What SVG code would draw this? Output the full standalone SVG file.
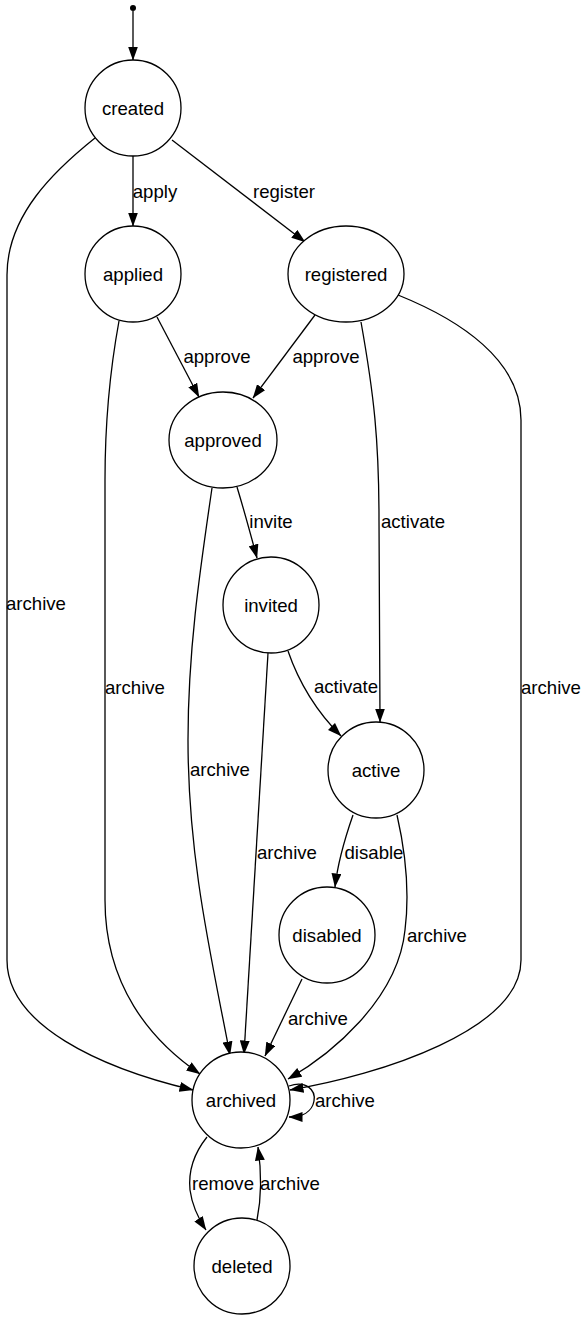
<svg xmlns="http://www.w3.org/2000/svg" width="588" height="1320" viewBox="0 0 588 1320">
<defs>
<marker id="arr" markerUnits="userSpaceOnUse" markerWidth="14" markerHeight="10" viewBox="0 0 14 10" refX="13.5" refY="5" orient="auto">
<path d="M0,0 L14,5 L0,10 z" fill="#000"/>
</marker>
</defs>
<style>
.node ellipse, .node circle.n { fill: #fff; stroke: #000; stroke-width: 1.3; }
.node text { font-family: "Liberation Sans", Arial, sans-serif; font-size: 18.6px; text-anchor: middle; fill: #000; }
.edges path { fill: none; stroke: #000; stroke-width: 1.3; marker-end: url(#arr); }
.edges text { font-family: "Liberation Sans", Arial, sans-serif; font-size: 18.6px; text-anchor: middle; fill: #000; }
</style>
<rect width="588" height="1320" fill="#fff"/>
<g class="edges" id="edges">
<path d="M133,11 L133,60"/>
<path d="M133,156 L133,226"/>
<text x="155" y="198">apply</text>
<path d="M172,140 L305,242"/>
<text x="284" y="198">register</text>
<path d="M95,138 C55,170 7,215 7,275 L7,960 C7,1025 100,1068 193,1090"/>
<text x="36" y="610">archive</text>
<path d="M157,317 L199,397"/>
<text x="217" y="363">approve</text>
<path d="M315,315 L253,398"/>
<text x="326" y="363">approve</text>
<path d="M119,321 C110,370 105,420 105,480 L105,900 C105,985 150,1040 200,1074"/>
<text x="135" y="694">archive</text>
<path d="M361,322 C374,395 379,440 379,520 C379,600 380,680 380,722"/>
<text x="413" y="528">activate</text>
<path d="M398,295 C460,320 521,360 521,420 L521,960 C521,1030 380,1075 290,1090"/>
<text x="551" y="694">archive</text>
<path d="M237,487 C244,510 250,532 257,558"/>
<text x="271" y="528">invite</text>
<path d="M212,488 C200,570 188,650 188,740 C188,860 212,960 230,1055"/>
<text x="220" y="776">archive</text>
<path d="M288,651 C298,680 315,710 341,736"/>
<text x="346" y="693">activate</text>
<path d="M268,653 L244,1054"/>
<text x="287" y="859">archive</text>
<path d="M353,815 C345,838 338,860 335,887"/>
<text x="374" y="859">disable</text>
<path d="M397,815 C405,850 410,890 405,930 C398,1000 330,1055 288,1079"/>
<text x="437" y="942">archive</text>
<path d="M302,979 L265,1056"/>
<text x="318" y="1025">archive</text>
<path d="M289,1086 C306,1080 316,1090 314,1101 C312,1112 302,1117 289,1117"/>
<text x="345" y="1107">archive</text>
<path d="M207,1137 C195,1152 188,1170 190,1190 C192,1205 198,1218 206,1230"/>
<text x="223" y="1190">remove</text>
<path d="M257,1220 C261,1200 262,1175 258,1147"/>
<text x="290" y="1190">archive</text>
</g>
<g class="node" id="start"><circle cx="133" cy="8" r="3" fill="#000"/></g>
<g class="node" id="created"><ellipse cx="133" cy="108" rx="48" ry="48"/><text x="133" y="114.5">created</text></g>
<g class="node" id="applied"><ellipse cx="133" cy="274" rx="48" ry="48"/><text x="133" y="280.5">applied</text></g>
<g class="node" id="registered"><ellipse cx="346" cy="274" rx="58" ry="48"/><text x="346" y="280.5">registered</text></g>
<g class="node" id="approved"><ellipse cx="223" cy="440" rx="54" ry="48"/><text x="223" y="446.5">approved</text></g>
<g class="node" id="invited"><ellipse cx="271" cy="605" rx="48" ry="48"/><text x="271" y="611.5">invited</text></g>
<g class="node" id="active"><ellipse cx="376" cy="770" rx="48" ry="48"/><text x="376" y="776.5">active</text></g>
<g class="node" id="disabled"><ellipse cx="327" cy="935" rx="48" ry="48"/><text x="327" y="941.5">disabled</text></g>
<g class="node" id="archived"><ellipse cx="241" cy="1100" rx="49" ry="48"/><text x="241" y="1106.5">archived</text></g>
<g class="node" id="deleted"><ellipse cx="242" cy="1266" rx="48" ry="48"/><text x="242" y="1272.5">deleted</text></g>
</svg>
